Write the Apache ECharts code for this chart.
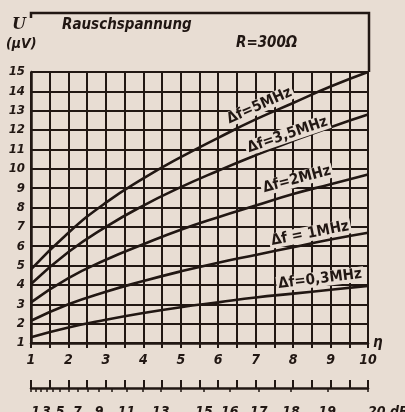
<!DOCTYPE html>
<html>
<head>
<meta charset="utf-8">
<script src="https://cdn.jsdelivr.net/npm/echarts@6/dist/echarts.min.js"></script>
<style>
  html, body { margin: 0; padding: 0; background: #e8ddd3; }
  #chart { width: 405px; height: 412px; }
</style>
</head>
<body>
<div id="chart"></div>
<script>
// noise voltage (µV) at eta = 1..10
const eta = [1, 2, 3, 4, 5, 6, 7, 8, 9, 10]
const u5MHz = [4.8, 6.7, 8.25, 9.5, 10.6, 11.6, 12.55, 13.4, 14.25, 15.0]
const u35MHz = [4.05, 5.7, 7.0, 8.1, 9.05, 9.9, 10.7, 11.45, 12.15, 12.8]
const u2MHz = [3.1, 4.35, 5.3, 6.1, 6.85, 7.5, 8.1, 8.7, 9.2, 9.7]
const u1MHz = [2.15, 3.0, 3.65, 4.2, 4.7, 5.15, 5.55, 5.95, 6.35, 6.7]
const u03MHz = [1.3, 1.8, 2.2, 2.55, 2.85, 3.1, 3.35, 3.55, 3.75, 3.95]

const curveNames = ['Δf=5MHz', 'Δf=3,5MHz', 'Δf=2MHz', 'Δf = 1MHz', 'Δf=0,3MHz']
// label anchor [eta, µV] and slope angle of each curve label
const labelAt = [[7.1, 13.25], [7.85, 11.75], [8.1, 9.45], [8.45, 6.65], [8.72, 4.3]]
const labelRot = [24, 19, 15, 11, 7]

// lower dB scale (dB = 20 log eta)
const dbTicks = [0, 1, 2, 3, 4, 5, 6, 7, 8, 9, 10, 11, 12, 13, 14, 15, 16, 17, 18, 19, 20]
const dbLabels = [1, 3, 5, 7, 9, 11, 13, 15, 16, 17, 18, 19, 20]

const ink = '#211713'
const paper = '#e8ddd3'
const numFont = "'DejaVu Sans Condensed', 'Liberation Sans Narrow', sans-serif"
const toEta = (db) => Math.pow(10, db / 20)

const chart = echarts.init(document.getElementById('chart'))

const series = [u5MHz, u35MHz, u2MHz, u1MHz, u03MHz].map((vals, i) => ({
  type: 'line',
  name: curveNames[i],
  smooth: true,
  symbol: 'none',
  lineStyle: { color: ink, width: 2.6 },
  data: eta.map((x, k) => [x, vals[k]]),
  markPoint: {
    symbol: 'circle',
    symbolSize: 0,
    data: [{
      coord: labelAt[i],
      label: {
        show: true,
        formatter: curveNames[i],
        rotate: labelRot[i],
        color: ink,
        fontFamily: numFont,
        fontWeight: 'bold',
        fontSize: 15,
        backgroundColor: paper,
        padding: [0, 2]
      }
    }]
  }
}))

chart.setOption({
  backgroundColor: paper,
  animation: false,
  textStyle: { fontFamily: numFont },
  title: [
    { text: 'U', left: 12, top: 17, padding: 0, textStyle: { color: ink, fontSize: 16, fontStyle: 'italic', fontWeight: 'bold', fontFamily: 'DejaVu Serif' } },
    { text: '(µV)', left: 6, top: 37, padding: 0, textStyle: { color: ink, fontSize: 14, fontStyle: 'italic', fontWeight: 'bold', fontFamily: numFont } },
    { text: 'Rauschspannung', left: 62, top: 18, padding: 0, textStyle: { color: ink, fontSize: 15, fontStyle: 'italic', fontWeight: 'bold', fontFamily: numFont } },
    { text: 'R=300Ω', left: 236, top: 36, padding: 0, textStyle: { color: ink, fontSize: 15, fontStyle: 'italic', fontWeight: 'bold', fontFamily: numFont } }
  ],
  graphic: [{
    type: 'polyline',
    shape: { points: [[31, 18], [31, 13], [369, 13], [369, 72]] },
    style: { stroke: ink, lineWidth: 2.5, fill: null }
  }],
  grid: { left: 31, right: 37, top: 72, bottom: 69, containLabel: false, outerBoundsMode: 'none' },
  xAxis: [{
    type: 'value',
    min: 1,
    max: 10,
    interval: 0.5,
    name: 'η',
    nameLocation: 'end',
    nameGap: 5,
    nameTextStyle: { color: ink, fontSize: 15, fontStyle: 'italic', fontWeight: 'bold', padding: [38, 0, 0, 0] },
    axisLine: { show: true, lineStyle: { color: ink, width: 2.5 } },
    axisTick: { show: true, length: 5, lineStyle: { color: ink, width: 2 } },
    splitLine: { show: true, lineStyle: { color: ink, width: 2 } },
    axisLabel: {
      color: ink, fontSize: 14, fontStyle: 'italic', fontWeight: 'bold', margin: 10,
      formatter: (v) => (Number.isInteger(v) ? String(v) : '')
    }
  }, {
    type: 'value',
    min: 1,
    max: 10,
    position: 'bottom',
    offset: 45,
    axisLine: { show: true, lineStyle: { color: ink, width: 2.5 } },
    axisTick: { show: true, length: 4, customValues: dbTicks.map(toEta), lineStyle: { color: ink, width: 1.5 } },
    splitLine: { show: false },
    axisLabel: {
      color: ink, fontSize: 14, fontStyle: 'italic', fontWeight: 'bold', margin: 17,
      customValues: dbLabels.map(toEta),
      alignMaxLabel: 'left',
      formatter: (v) => {
        const db = Math.round(20 * Math.log10(v))
        return db === 20 ? '20 dB' : String(db)
      }
    }
  }, {
    type: 'value',
    min: 1,
    max: 10,
    interval: 0.5,
    position: 'bottom',
    offset: 45,
    axisLine: { show: false },
    axisTick: { show: true, inside: true, length: 8, lineStyle: { color: ink, width: 2 } },
    splitLine: { show: false },
    axisLabel: { show: false }
  }],
  yAxis: {
    type: 'value',
    min: 1,
    max: 15,
    interval: 1,
    axisLine: { show: true, lineStyle: { color: ink, width: 2.5 } },
    axisTick: { show: false },
    splitLine: { show: true, lineStyle: { color: ink, width: 2 } },
    axisLabel: { color: ink, fontSize: 13, fontStyle: 'italic', fontWeight: 'bold', margin: 6 }
  },
  series
})
</script>
</body>
</html>
